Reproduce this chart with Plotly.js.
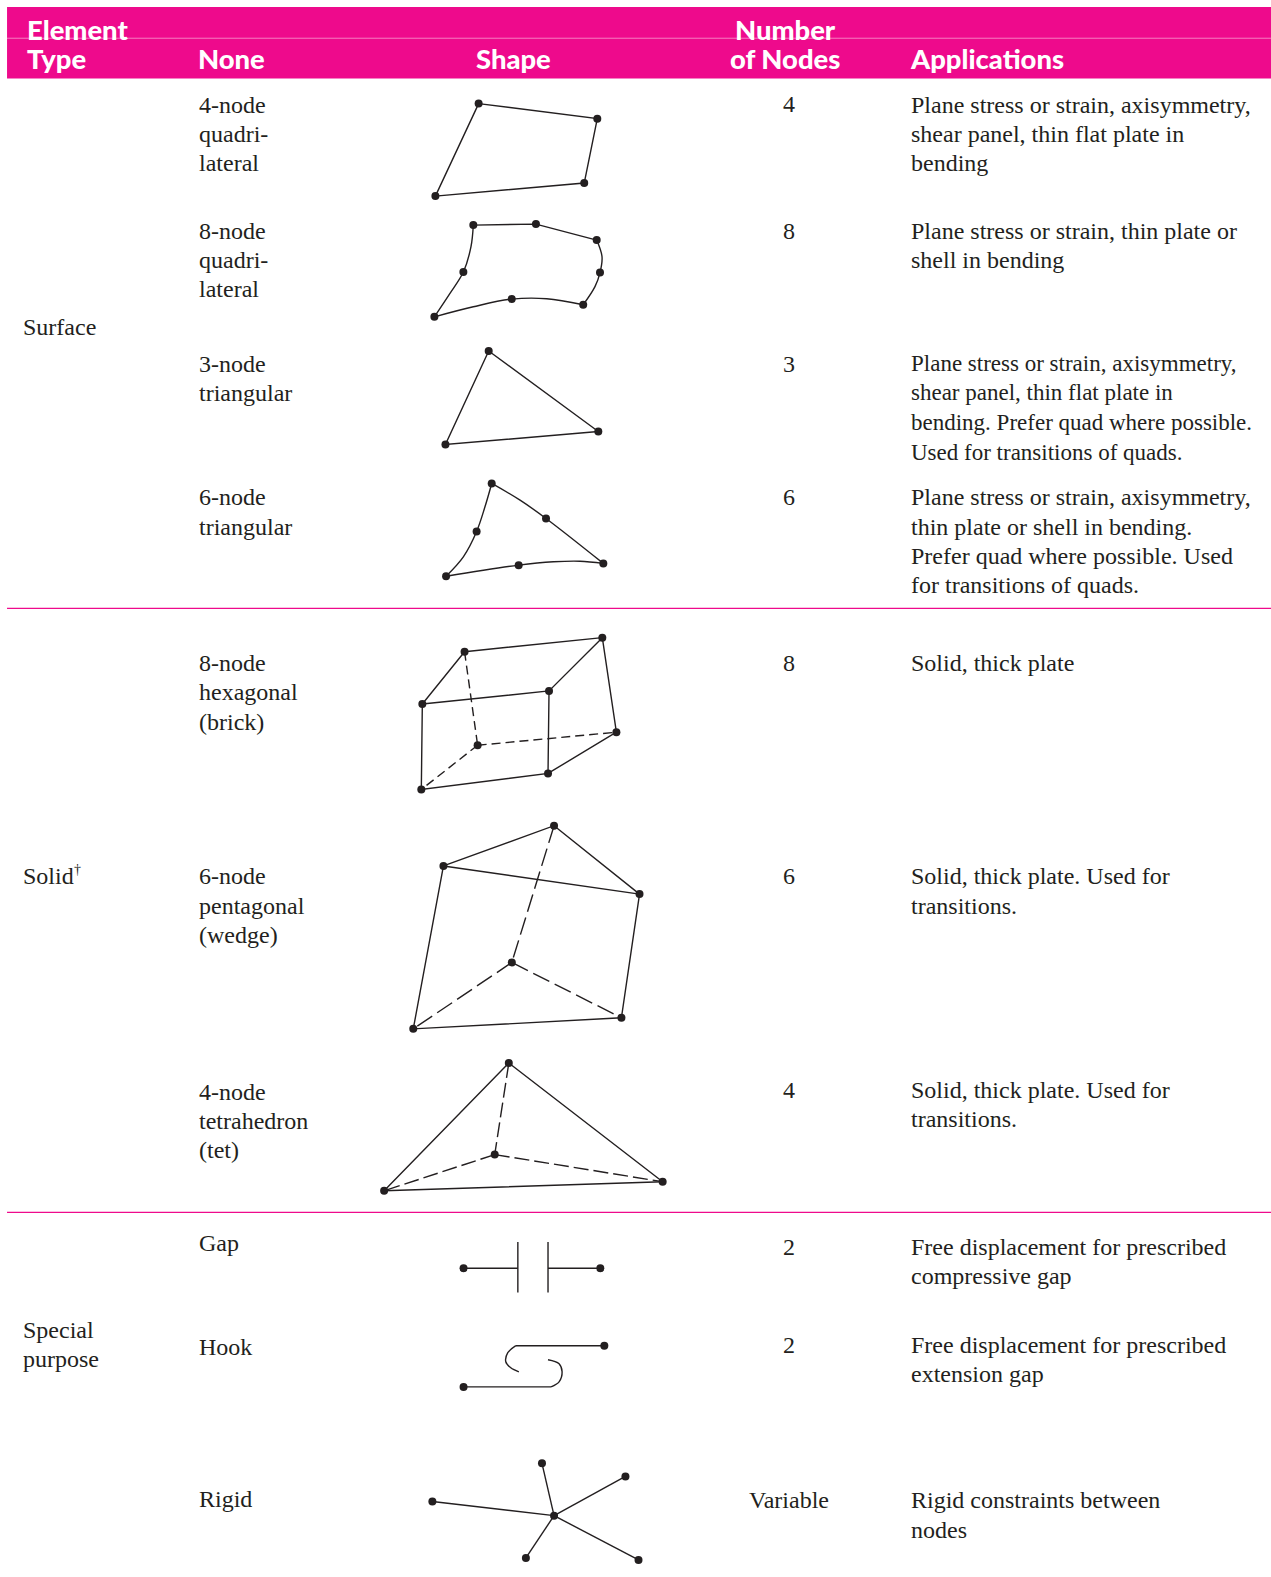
<!DOCTYPE html>
<html><head><meta charset="utf-8">
<script src="https://cdn.plot.ly/plotly-3.0.1.min.js"></script>
<style>html,body{margin:0;padding:0;background:#fff}</style></head>
<body><div id="chart" style="width:1271px;height:1577px"></div>
<script>
// ---- table text: [label, axis row]
const typeLabels = ["Surface","Solid","Special","purpose"];
const typeRows = [325.5,870.5,1322.5,1351.5];
const nameLabels = ["4-node","quadri-","lateral","8-node","quadri-","lateral","3-node","triangular","6-node","triangular","8-node","hexagonal","(brick)","6-node","pentagonal","(wedge)","4-node","tetrahedron","(tet)","Gap","Hook","Rigid"];
const nameRows = [104.5,133.5,162.5,229.5,258.5,287.5,361.5,390.5,494.5,523.5,659.5,688.5,717.5,870.5,900.5,929.5,1085.5,1114.5,1143.5,1235.5,1339.5,1490.5];
const nodeLabels = ["4","8","3","6","8","6","4","2","2","Variable"];
const nodeRows = [103.5,229.5,361.5,494.5,659.5,870.5,1083.5,1239.5,1337.5,1491.5];
const appLabels = ["Plane stress or strain, axisymmetry,","shear panel, thin flat plate in","bending",
"Plane stress or strain, thin plate or","shell in bending",
"Plane stress or strain, axisymmetry,","shear panel, thin flat plate in","bending. Prefer quad where possible.","Used for transitions of quads.",
"Plane stress or strain, axisymmetry,","thin plate or shell in bending.","Prefer quad where possible. Used","for transitions of quads.",
"Solid, thick plate",
"Solid, thick plate. Used for","transitions.",
"Solid, thick plate. Used for","transitions.",
"Free displacement for prescribed","compressive gap",
"Free displacement for prescribed","extension gap",
"Rigid constraints between","nodes"];
const appRows = [104.5,133.5,162.5,229.5,258.5,361.5,390.5,420.5,449.5,494.5,523.5,552.5,581.5,659.5,870.5,900.5,1083.5,1112.5,1239.5,1268.5,1337.5,1366.5,1491.5,1521.5];
const headerLeft = [["Element",26,29],["Type",26,58],["None",196,58],["Applications",904,58]];
const headerCentre = [["Shape",511,58],["Number",781,29],["of Nodes",781,58]];

// ---- element outlines: straight edges
const quad4 = [[[476,594,581,433,476],[103,118,182,195,103]]];
const quad8Straight = [[[593.4,533,470.7],[238.7,222.8,223.8]]];
const tri3 = [[[486,595,443,486],[349,429,442,349]]];
const brickSolid = [
 [[462,599,546,420,462],[648,634,687,700,648]],
 [[420,419,545,546],[700,785,769,687]],
 [[599,613,545],[634,728,769]]];
const brickHidden = [
 [[462,475],[648,741]],[[475,613],[741,728]],[[475,419],[741,785]]];
const wedgeSolid = [
 [[441,551,636,441],[861,821,889,861]],
 [[441,411,618,636],[861,1023,1012,889]]];
const wedgeHidden = [
 [[551,509],[821,957]],[[509,411],[957,1023]],[[509,618],[957,1012]]];
const tetSolid = [[[506,382,659,506],[1057,1184,1175,1057]]];
const tetHidden = [[[506,492],[1057,1148]],[[492,382],[1148,1184]],[[492,659],[1148,1175]]];
const gapEdges = [
 [[461,515],[1261,1261]],[[515,515],[1235,1285]],
 [[545,545],[1235,1285]],[[545,597],[1261,1261]]];
const hookStraight = [[[601,513],[1338,1338]],[[461,548],[1379,1379]]];
const rigidEdges = [
 [[551,430],[1507,1493]],[[551,539],[1507,1455]],[[551,622],[1507,1468]],
 [[551,635],[1507,1551]],[[551,523],[1507,1549]]];

// ---- curved edges
const quad8Curved = [
 [[470.7,468.4,460.8,447.5,432],[223.8,245.3,270.5,291.7,315]],
 [[432,470.7,508.9,543.7,580],[315,305,297.4,297,303]],
 [[580,591.7,596.7,598.7,593.4],[303,285,271,255.3,238.7]]];
const tri6Curved = [
 [[489,482.3,474,460.8,443.6],[480.7,503.9,528.4,553.6,572.9]],
 [[489,517.2,543,600],[480.7,497.3,515.5,560.2]],
 [[443.6,515.8,550.3,576.8,600],[572.9,561.9,558.6,558,560.2]]];
const hookCurved = [
 [[513,505,503,508,516],[1338,1345,1354,1360,1364]],
 [[548,556,559,556,545],[1379,1374,1364,1356,1352]]];

// ---- nodes
const nodesX = [476,594,581,433, 470.7,533,593.4,596.7,580,508.9,432,460.8, 486,595,443, 489,543,600,515.8,443.6,474,
 462,599,546,420,419,545,613,475, 441,551,636,411,618,509, 506,382,659,492,
 461,597, 601,461, 551,430,539,622,635,523];
const nodesY = [103,118,182,195, 223.8,222.8,238.7,271,303,297.4,315,270.5, 349,429,442, 480.7,515.5,560.2,561.9,572.9,528.4,
 648,634,687,700,785,769,728,741, 861,821,889,1023,1012,957, 1057,1184,1175,1148,
 1261,1261, 1338,1379, 1507,1493,1455,1468,1551,1549];

const ink = "#231f20", pink = "#ee0a8c";
const serif = "'Liberation Serif','Times New Roman',serif";
const traces = [];
function edges(list, opts){ list.forEach(e => traces.push({type:"scatter",mode:"lines",x:e[0],y:e[1],hoverinfo:"skip",
  line:Object.assign({color:ink,width:1.4},opts||{})})); }
const curve = {shape:"spline",smoothing:1};
edges(quad4); edges(tri3); edges(quad8Straight);
edges(quad8Curved,curve);
edges(tri6Curved,curve);
edges(brickSolid); edges(brickHidden,{dash:"9px,5px"});
edges(wedgeSolid); edges(wedgeHidden,{dash:"18px,6px"});
edges(tetSolid); edges(tetHidden,{dash:"15px,5px"});
edges(gapEdges); edges(hookStraight);
edges(hookCurved,curve);
edges(rigidEdges);
traces.push({type:"scatter",mode:"markers",x:nodesX,y:nodesY,hoverinfo:"skip",marker:{color:ink,size:8}});

const ann = [];
function text(label,x,y,anchor,font){ ann.push({text:label,x:x,y:y,xref:"x",yref:"y",xanchor:anchor,yanchor:"middle",showarrow:false,font:font,borderpad:0}); }
const body = {family:serif,size:24,color:ink};
const bodyTight = {family:serif,size:23,color:ink};   // the 3-node block is set slightly tighter
const head = {family:"Lato, 'Open Sans', sans-serif",size:27.4,color:"#ffffff",weight:900};
typeLabels.forEach((t,i)=>text(t,22,typeRows[i],"left",body));
text("†",73,865,"left",{family:serif,size:14,color:ink});
nameLabels.forEach((t,i)=>text(t,197,nameRows[i],"left",body));
nodeLabels.forEach((t,i)=>text(t,784.5,nodeRows[i],"center",body));
appLabels.forEach((t,i)=>text(t,905,appRows[i],"left",(i>=5&&i<=8)?bodyTight:body));
headerLeft.forEach(h=>text(h[0],h[1],h[2],"left",head));
headerCentre.forEach(h=>text(h[0],h[1],h[2],"center",head));

const shapes = [
 {type:"rect",xref:"x",yref:"y",x0:7,x1:1264,y0:7,y1:78,fillcolor:pink,line:{width:0},layer:"below"},
 {type:"line",xref:"x",yref:"y",x0:7,x1:1264,y0:38,y1:38,line:{color:"#f77fc0",width:1},layer:"above"},
 {type:"line",xref:"x",yref:"y",x0:7,x1:1264,y0:605,y1:605,line:{color:pink,width:1.3}},
 {type:"line",xref:"x",yref:"y",x0:7,x1:1264,y0:1205.5,y1:1205.5,line:{color:pink,width:1.3}}
];
const hidden = {visible:false,fixedrange:true,zeroline:false,showgrid:false};
Plotly.newPlot("chart",traces,{
 width:1271,height:1577,margin:{l:0,r:0,t:0,b:0},showlegend:false,
 paper_bgcolor:"#fff",plot_bgcolor:"#fff",
 xaxis:Object.assign({range:[0,1264]},hidden),
 yaxis:Object.assign({range:[1568,0]},hidden),
 annotations:ann,shapes:shapes
},{displayModeBar:false,staticPlot:true});
</script></body></html>
